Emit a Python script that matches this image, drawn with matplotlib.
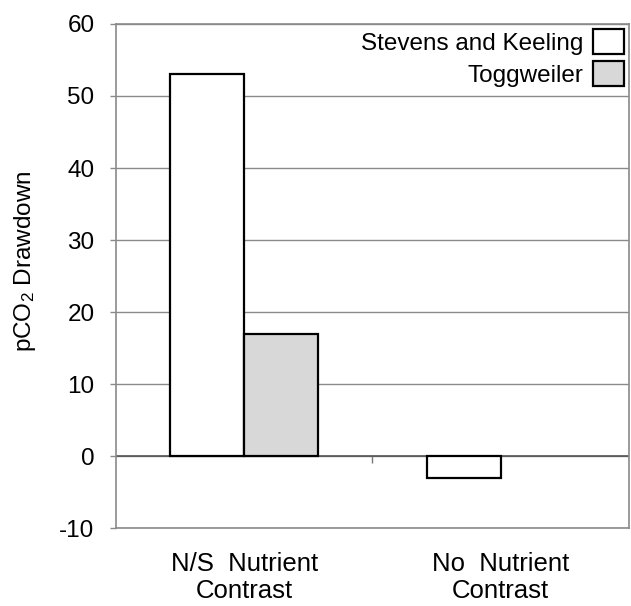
import numpy as np
import matplotlib
matplotlib.use('Agg')
import matplotlib.pyplot as plt

plt.rcParams['font.family'] = ['Liberation Sans', 'DejaVu Sans']
plt.rcParams['mathtext.fontset'] = 'custom'
plt.rcParams['mathtext.rm'] = 'Liberation Sans'
plt.rcParams['mathtext.it'] = 'Liberation Sans'
plt.rcParams['axes.unicode_minus'] = False

# data
categories = ['N/S  Nutrient\nContrast', 'No  Nutrient\nContrast']
stevens_keeling = [53, -3]
toggweiler = [17, 0]
series_names = ['Stevens and Keeling', 'Toggweiler']
yticks = [-10, 0, 10, 20, 30, 40, 50, 60]

fig = plt.figure(figsize=(6.31, 6.06), dpi=100)
ax = fig.add_axes([0.1838, 0.1287, 0.8130, 0.8317])

x = np.arange(len(categories))
w = 0.288
grid_c = '#8a8a8a'

ax.bar(x - w / 2, stevens_keeling, w, color='white', edgecolor='black', linewidth=1.6,
       label=series_names[0], zorder=3)
tog = [v if v != 0 else np.nan for v in toggweiler]
ax.bar(x + w / 2, tog, w, color='#d8d8d8', edgecolor='black', linewidth=1.6,
       label=series_names[1], zorder=3)

ax.set_xlim(-0.5, 1.5)
ax.set_ylim(-10, 60)
ax.set_yticks(yticks)
ax.yaxis.grid(True, color=grid_c, linewidth=1.0, zorder=0)
ax.axhline(0, color='#555555', linewidth=1.2, zorder=2)

for s in ax.spines.values():
    s.set_color(grid_c)
    s.set_linewidth(1.2)

ax.tick_params(axis='y', direction='out', length=4.5, width=1, color=grid_c,
               labelsize=17.5, pad=11)
ax.set_xticks(x)
ax.set_xticklabels(categories, fontsize=18.5, linespacing=1.2)
ax.tick_params(axis='x', length=0, pad=17)

# category boundary ticks on the zero line
sec = ax.secondary_xaxis(10 / 70)
sec.set_xticks([0.5])
sec.set_xticklabels([''])
sec.tick_params(direction='out', length=5, width=1, color='#777777')
sec.spines['bottom'].set_visible(False)

ax.set_ylabel('pCO$_2$ Drawdown', fontsize=17.5)
ax.yaxis.set_label_coords(-0.152, 0.53)

ax.legend(loc='upper right', frameon=False, markerfirst=False, fontsize=17.5,
          handlelength=1.28, handleheight=1.22, labelspacing=0.25,
          handletextpad=0.4, borderpad=0.0, borderaxespad=0.2)

fig.savefig('out.png', dpi=100)
